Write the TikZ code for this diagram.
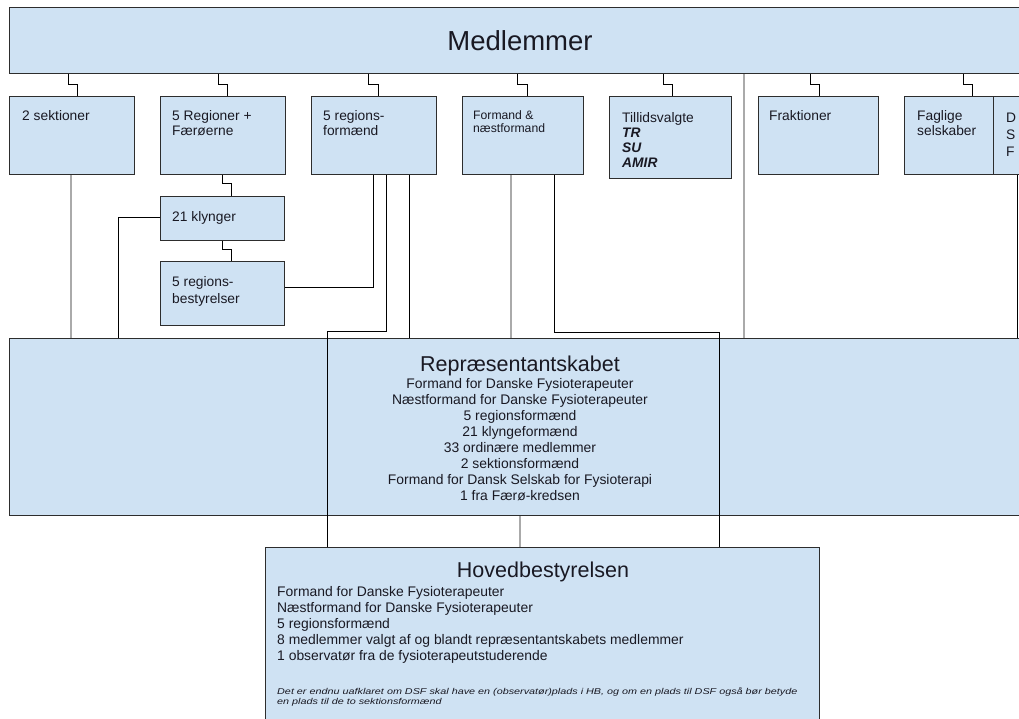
\documentclass[tikz,border=0pt]{standalone}
\usepackage{fontspec}
\usepackage{graphicx}
\setmainfont{Liberation Sans}
\usetikzlibrary{calc}
\definecolor{boxfill}{RGB}{207,226,243}
\definecolor{boxline}{RGB}{45,45,45}
\definecolor{grayline}{RGB}{170,170,170}
\definecolor{txtcol}{RGB}{25,25,35}
\begin{document}
\begin{tikzpicture}[x=1pt,y=-1pt,
  box/.style={draw=boxline, fill=boxfill, line width=1.2pt, rectangle, inner sep=0pt, anchor=north west},
  txt/.style={inner sep=0pt, anchor=base west, align=left, text=txtcol, font=\fontsize{13.8}{15}\selectfont},
  ctxt/.style={inner sep=0pt, anchor=base, align=center, text=txtcol},
  conn/.style={draw=black, line width=1pt},
  gconn/.style={draw=grayline, line width=1.4pt},
]
\useasboundingbox (0,0) rectangle (1019,719);
\clip (0,0) rectangle (1019,719);

% boxes
\node[box, minimum width=1030pt, minimum height=66pt] (med) at (9,7) {};
\node[box, minimum width=125pt, minimum height=78pt] (sek) at (9,96) {};
\node[box, minimum width=125pt, minimum height=78pt] (reg) at (160,96) {};
\node[box, minimum width=125pt, minimum height=78pt] (rf) at (311,96) {};
\node[box, minimum width=121pt, minimum height=78pt] (fn) at (462,96) {};
\node[box, minimum width=122pt, minimum height=82pt] (til) at (609,96) {};
\node[box, minimum width=120pt, minimum height=78pt] (fra) at (758,96) {};
\node[box, minimum width=89pt, minimum height=78pt] (fag) at (904,96) {};
\node[box, minimum width=45pt, minimum height=78pt] (dsf) at (993,96) {};
\node[box, minimum width=124pt, minimum height=44pt] (kly) at (160,196) {};
\node[box, minimum width=124pt, minimum height=64pt] (rb) at (160,261) {};
\node[box, minimum width=1035pt, minimum height=177pt] (rep) at (9,338) {};
\node[box, minimum width=554pt, minimum height=190pt] (hb) at (265,547) {};

% texts (anchor base = baseline of the last line)
\node[ctxt, font=\fontsize{27.5}{30}\selectfont] (tmed) at (520,51) {Medlemmer};
\node[txt] (tsek) at (22,121) {2 sektioner};
\node[txt] (treg) at (172,136) {5 Regioner +\\Færøerne};
\node[txt] (trf) at (323,136) {5 regions-\\formænd};
\node[txt, font=\fontsize{12.2}{13}\selectfont] (tfn) at (473,133) {Formand \&\\næstformand};
\node[txt, font=\fontsize{13.8}{15.3}\selectfont] (ttil) at (622,168) {Tillidsvalgte\\\textbf{\textit{TR}}\\\textbf{\textit{SU}}\\\textbf{\textit{AMIR}}};
\node[txt] (tfra) at (769,121) {Fraktioner};
\node[txt] (tfag) at (917,136) {Faglige\\selskaber};
\node[txt, font=\fontsize{13.8}{17}\selectfont] (tdsf) at (1006,157) {D\\S\\F};
\node[txt] (tkly) at (172,222) {21 klynger};
\node[txt, font=\fontsize{13.8}{17}\selectfont] (trb) at (172,303) {5 regions-\\bestyrelser};

\node[ctxt, font=\fontsize{21.5}{24}\selectfont] (trep) at (520,371) {Repræsentantskabet};
\node[ctxt, font=\fontsize{13.9}{16}\selectfont] (trepl) at (520,500) {Formand for Danske Fysioterapeuter\\Næstformand for Danske Fysioterapeuter\\5 regionsformænd\\21 klyngeformænd\\33 ordinære medlemmer\\2 sektionsformænd\\Formand for Dansk Selskab for Fysioterapi\\1 fra Færø-kredsen};

\node[ctxt, font=\fontsize{21.5}{24}\selectfont] (thb) at (543,577) {Hovedbestyrelsen};
\node[txt, font=\fontsize{13.9}{15.8}\selectfont] (thbl) at (277,660) {Formand for Danske Fysioterapeuter\\Næstformand for Danske Fysioterapeuter\\5 regionsformænd\\8 medlemmer valgt af og blandt repræsentantskabets medlemmer\\1 observatør fra de fysioterapeutstuderende};
\node[txt, font=\fontsize{8.5}{10.5}\selectfont\itshape] (tnote) at (277,704.5) {\scalebox{1.27}[1]{Det er endnu uafklaret om DSF skal have en (observatør)plads i HB, og om en plads til DSF også bør betyde}\\\scalebox{1.27}[1]{en plads til de to sektionsformænd}};

% connectors from Medlemmer
\draw[conn] (68,0 |- med.south) -- (68,85) -| (77,0 |- sek.north);
\draw[conn] (218,0 |- med.south) -- (218,85) -| (227,0 |- reg.north);
\draw[conn] (368,0 |- med.south) -- (368,85) -| (378,0 |- rf.north);
\draw[conn] (517,0 |- med.south) -- (517,85) -| (527,0 |- fn.north);
\draw[conn] (663,0 |- med.south) -- (663,85) -| (672,0 |- til.north);
\draw[conn] (810,0 |- med.south) -- (810,85) -| (819,0 |- fra.north);
\draw[conn] (963,0 |- med.south) -- (963,85) -| (972,0 |- fag.north);
\draw[gconn] (744,0 |- med.south) -- (744,0 |- rep.north);

% regions chain
\draw[conn] (222,0 |- reg.south) -- (222,184) -| (231,0 |- kly.north);
\draw[conn] (222,0 |- kly.south) -- (222,250) -| (231,0 |- rb.north);
\draw[conn] ([yshift=1pt]kly.west) -| (118,0 |- rep.north);
\draw[conn] ([yshift=6pt]rb.east) -| (373,0 |- rf.south);

% to Repræsentantskabet
\draw[gconn] (71,0 |- sek.south) -- (71,0 |- rep.north);
\draw[conn] (409,0 |- rf.south) -- (409,0 |- rep.north);
\draw[gconn] (511,0 |- fn.south) -- (511,0 |- rep.north);
\draw[conn] (1017,0 |- dsf.south) -- (1017,0 |- rep.north);

% through to Hovedbestyrelsen
\draw[conn] (386,0 |- rf.south) -- (386,331) -| (327,0 |- hb.north);
\draw[conn] (554,0 |- fn.south) -- (554,332) -| (719,0 |- hb.north);
\draw[gconn] (520,0 |- rep.south) -- (520,0 |- hb.north);
\end{tikzpicture}
\end{document}
